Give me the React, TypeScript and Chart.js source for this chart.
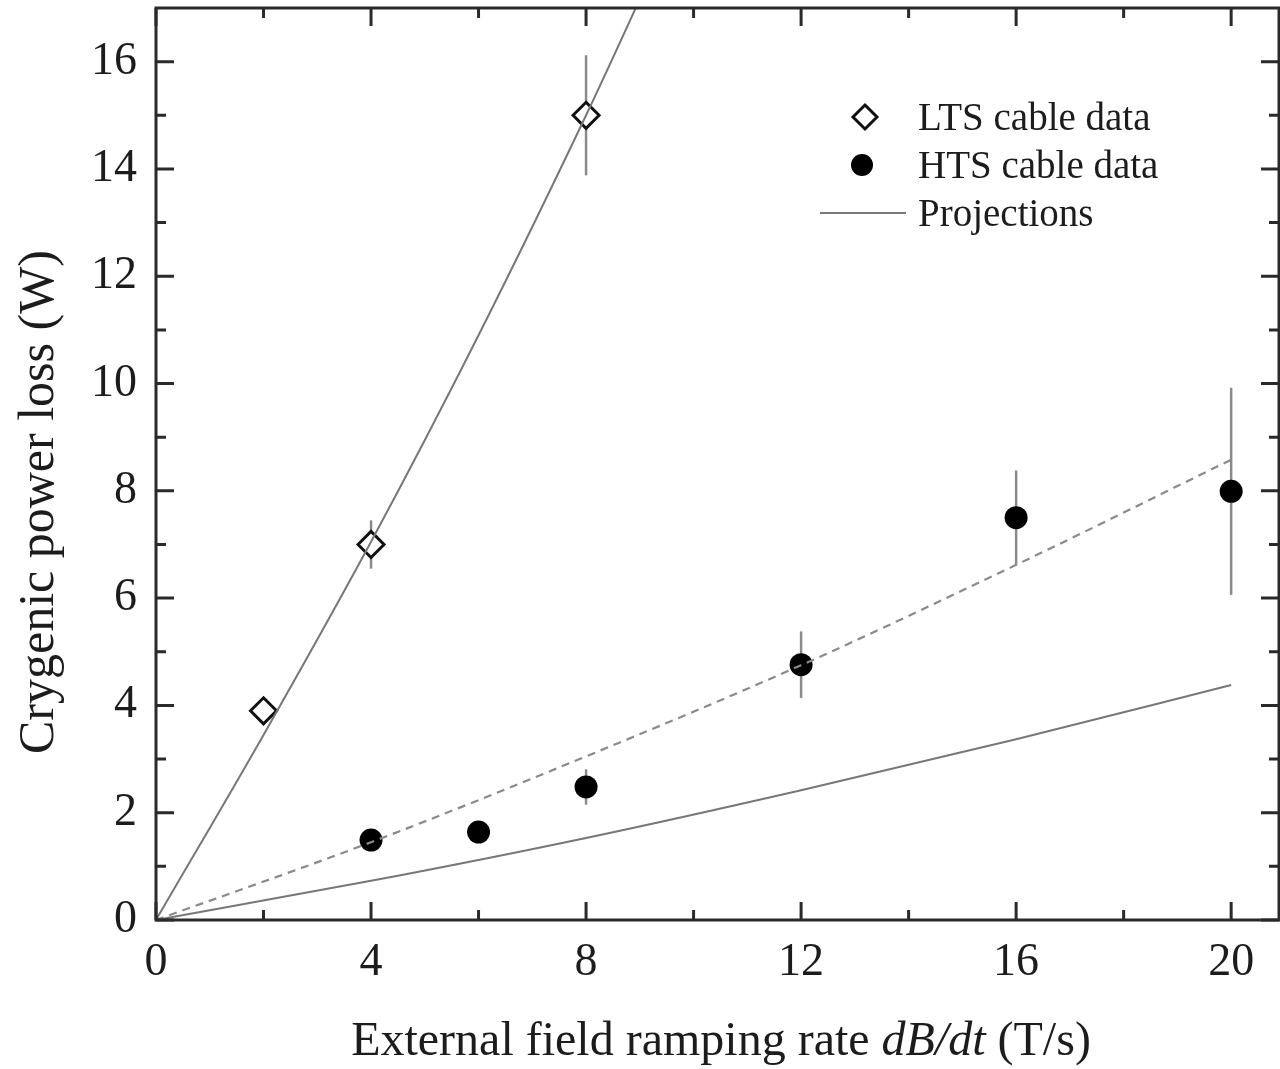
import React, { useEffect, useRef } from "react";
import { Chart, registerables } from "chart.js";

Chart.register(...registerables);

// ---- data ----
const X_TICKS = [0, 4, 8, 12, 16, 20];
const X_MINOR = [2, 6, 10, 14, 18];
const Y_TICKS = [0, 2, 4, 6, 8, 10, 12, 14, 16];
const Y_MINOR = [1, 3, 5, 7, 9, 11, 13, 15];

const ltsX = [2, 4, 8];
const ltsY = [3.9, 7.0, 15.0];
const ltsErr = [0.15, 0.45, 1.12];

const htsX = [4, 6, 8, 12, 16, 20];
const htsY = [1.49, 1.64, 2.48, 4.76, 7.5, 7.99];
const htsErr = [0.12, 0.12, 0.33, 0.62, 0.88, 1.93];

const projLtsX = [0, 2, 4, 6, 8, 9.2];
const projLtsY = [0, 3.45, 7.05, 10.9, 15.0, 17.6];

const projHtsDashX = [0, 4, 8, 12, 16, 20];
const projHtsDashY = [0, 1.45, 3.05, 4.75, 6.62, 8.58];

const projHtsSolidX = [0, 4, 8, 12, 16, 20];
const projHtsSolidY = [0, 0.73, 1.53, 2.42, 3.37, 4.38];

const LEGEND_LABELS = ["LTS cable data", "HTS cable data", "Projections"];
const Y_TITLE = "Crygenic power loss (W)";
const X_TITLE_PARTS = ["External field ramping rate ", "dB/dt", " (T/s)"];

const SERIF = '"Liberation Serif", "DejaVu Serif", "Times New Roman", serif';
const TEXT = "#1c1c1c";
const FRAME = "#2a2a2a";

const zip = (xs: number[], ys: number[]) => xs.map((x, i) => ({ x, y: ys[i] }));

const zeroPad = (s: any) => {
  s.paddingLeft = 0;
  s.paddingRight = 0;
  s.paddingTop = 0;
  s.paddingBottom = 0;
};

const overlay = {
  id: "overlay",
  beforeDatasetsDraw(chart: any) {
    const { ctx, chartArea, scales } = chart;
    const xs = scales.x, ys = scales.y;
    ctx.save();
    ctx.beginPath();
    ctx.rect(chartArea.left, chartArea.top, chartArea.right - chartArea.left, chartArea.bottom - chartArea.top);
    ctx.clip();
    ctx.strokeStyle = "#8a8a8a";
    ctx.lineWidth = 2.5;
    const drawErr = (xv: number[], yv: number[], ev: number[]) => {
      xv.forEach((x, i) => {
        const px = xs.getPixelForValue(x);
        ctx.beginPath();
        ctx.moveTo(px, ys.getPixelForValue(yv[i] + ev[i]));
        ctx.lineTo(px, ys.getPixelForValue(yv[i] - ev[i]));
        ctx.stroke();
      });
    };
    drawErr(ltsX, ltsY, ltsErr);
    drawErr(htsX, htsY, htsErr);
    ctx.restore();
  },
  afterDatasetsDraw(chart: any) {
    const { ctx, chartArea, scales } = chart;
    const { left, right, top, bottom } = chartArea;
    const xs = scales.x, ys = scales.y;
    ctx.save();
    ctx.strokeStyle = FRAME;
    ctx.lineWidth = 3;
    ctx.strokeRect(left, top, right - left, bottom - top);
    const MAJ = 18, MIN = 10;
    const xt = (v: number, len: number) => {
      const p = xs.getPixelForValue(v);
      ctx.beginPath();
      ctx.moveTo(p, bottom); ctx.lineTo(p, bottom - len);
      ctx.moveTo(p, top); ctx.lineTo(p, top + len);
      ctx.stroke();
    };
    const yt = (v: number, len: number) => {
      const p = ys.getPixelForValue(v);
      ctx.beginPath();
      ctx.moveTo(left, p); ctx.lineTo(left + len, p);
      ctx.moveTo(right, p); ctx.lineTo(right - len, p);
      ctx.stroke();
    };
    X_TICKS.forEach((v) => xt(v, MAJ));
    X_MINOR.forEach((v) => xt(v, MIN));
    Y_TICKS.forEach((v) => yt(v, MAJ));
    Y_MINOR.forEach((v) => yt(v, MIN));
    ctx.restore();
  },
  afterDraw(chart: any) {
    const { ctx } = chart;
    ctx.save();
    ctx.fillStyle = TEXT;
    ctx.font = `50px ${SERIF}`;
    ctx.translate(40, 502);
    ctx.rotate(-Math.PI / 2);
    ctx.textAlign = "center";
    ctx.textBaseline = "middle";
    ctx.fillText(Y_TITLE, 0, 0);
    ctx.restore();

    ctx.save();
    ctx.fillStyle = TEXT;
    ctx.textBaseline = "alphabetic";
    ctx.textAlign = "left";
    const fN = `48px ${SERIF}`;
    const fI = `italic 48px ${SERIF}`;
    ctx.font = fN;
    const w0 = ctx.measureText(X_TITLE_PARTS[0]).width;
    const w2 = ctx.measureText(X_TITLE_PARTS[2]).width;
    ctx.font = fI;
    const w1 = ctx.measureText(X_TITLE_PARTS[1]).width;
    const total = w0 + w1 + w2;
    let x = 721 - total / 2;
    const by = 1055;
    ctx.font = fN; ctx.fillText(X_TITLE_PARTS[0], x, by); x += w0;
    ctx.font = fI; ctx.fillText(X_TITLE_PARTS[1], x, by); x += w1;
    ctx.font = fN; ctx.fillText(X_TITLE_PARTS[2], x, by);
    ctx.restore();

    ctx.save();
    const rows = [117, 165, 213];
    ctx.strokeStyle = "#111";
    ctx.lineWidth = 3;
    ctx.fillStyle = "#fff";
    const dx = 865, r = 12;
    ctx.beginPath();
    ctx.moveTo(dx, rows[0] - r); ctx.lineTo(dx + r, rows[0]); ctx.lineTo(dx, rows[0] + r); ctx.lineTo(dx - r, rows[0]);
    ctx.closePath(); ctx.fill(); ctx.stroke();
    ctx.fillStyle = "#000";
    ctx.beginPath(); ctx.arc(862, rows[1], 11, 0, Math.PI * 2); ctx.fill();
    ctx.strokeStyle = "#7a7a7a"; ctx.lineWidth = 2;
    ctx.beginPath(); ctx.moveTo(820, rows[2]); ctx.lineTo(906, rows[2]); ctx.stroke();
    ctx.fillStyle = TEXT;
    ctx.font = `39px ${SERIF}`;
    ctx.textAlign = "left";
    ctx.textBaseline = "alphabetic";
    LEGEND_LABELS.forEach((t, i) => ctx.fillText(t, 918, rows[i] + 13));
    ctx.restore();
  },
};

export default function App() {
  const ref = useRef<HTMLCanvasElement | null>(null);
  useEffect(() => {
    if (!ref.current) return;
    const chart = new Chart(ref.current, {
      type: "scatter",
      data: {
        datasets: [
          {
            label: "LTS projection",
            data: zip(projLtsX, projLtsY),
            showLine: true,
            borderColor: "#777",
            borderWidth: 2,
            pointRadius: 0,
            cubicInterpolationMode: "monotone",
          },
          {
            label: "HTS projection (dashed)",
            data: zip(projHtsDashX, projHtsDashY),
            showLine: true,
            borderColor: "#8a8a8a",
            borderWidth: 2.2,
            borderDash: [8, 6],
            pointRadius: 0,
            cubicInterpolationMode: "monotone",
          },
          {
            label: "HTS projection",
            data: zip(projHtsSolidX, projHtsSolidY),
            showLine: true,
            borderColor: "#777",
            borderWidth: 2,
            pointRadius: 0,
            cubicInterpolationMode: "monotone",
          },
          {
            label: LEGEND_LABELS[0],
            data: zip(ltsX, ltsY),
            pointStyle: "rectRot",
            pointRadius: 13,
            pointBackgroundColor: "#fff",
            pointBorderColor: "#111",
            pointBorderWidth: 3,
          },
          {
            label: LEGEND_LABELS[1],
            data: zip(htsX, htsY),
            pointStyle: "circle",
            pointRadius: 11.5,
            pointBackgroundColor: "#000",
            pointBorderColor: "#000",
            pointBorderWidth: 0,
          },
        ],
      },
      options: {
        animation: false,
        responsive: false,
        maintainAspectRatio: false,
        layout: { autoPadding: false, padding: { left: 0, right: 1, top: 8, bottom: 0 } },
        plugins: { legend: { display: false }, tooltip: { enabled: false } },
        scales: {
          x: {
            type: "linear",
            min: 0,
            max: 20.89,
            grid: { display: false, drawTicks: false },
            border: { display: false },
            ticks: { font: { family: SERIF, size: 46 }, color: TEXT, padding: 15, maxRotation: 0 },
            afterBuildTicks: (s: any) => { s.ticks = X_TICKS.map((v) => ({ value: v })); },
            afterFit: (s: any) => { s.height = 149; zeroPad(s); },
          },
          y: {
            type: "linear",
            min: 0,
            max: 17,
            grid: { display: false, drawTicks: false },
            border: { display: false },
            ticks: { font: { family: SERIF, size: 46 }, color: TEXT, padding: 19 },
            afterBuildTicks: (s: any) => { s.ticks = Y_TICKS.map((v) => ({ value: v })); },
            afterFit: (s: any) => { s.width = 156; zeroPad(s); },
          },
        },
      },
      plugins: [overlay],
    });
    return () => chart.destroy();
  }, []);
  return (
    <div style={{ position: "fixed", left: 0, top: 0, width: 1280, height: 1069, background: "#fff" }}>
      <canvas ref={ref} width={1280} height={1069} style={{ width: 1280, height: 1069, display: "block" }} />
    </div>
  );
}
